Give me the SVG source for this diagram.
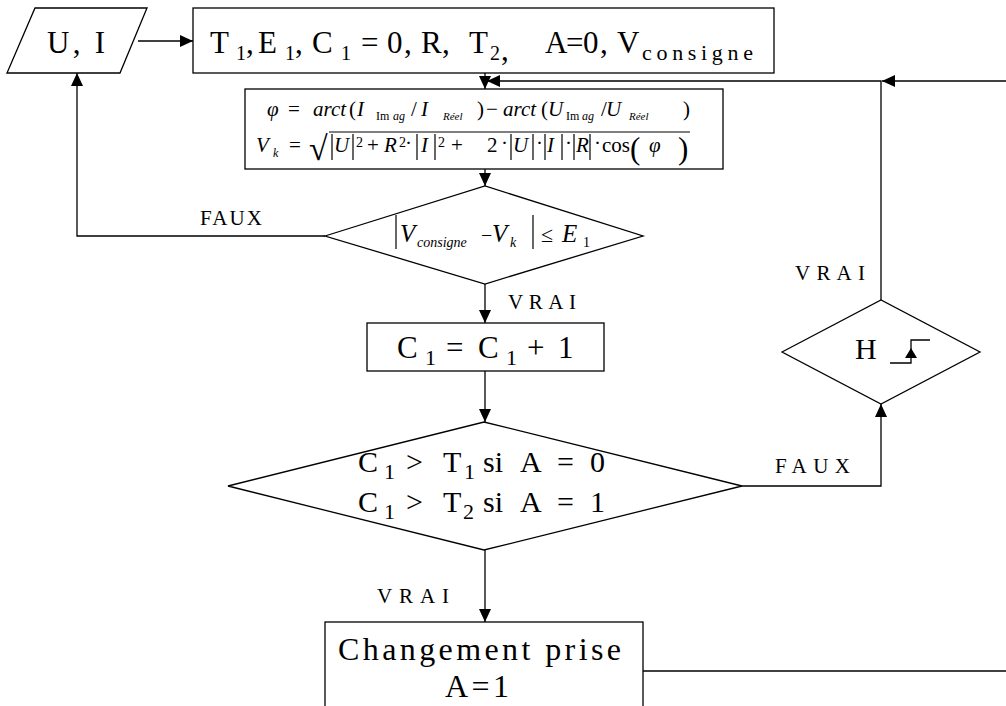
<svg xmlns="http://www.w3.org/2000/svg" width="1006" height="706" viewBox="0 0 1006 706">
<style>
.sh{fill:#fff;stroke:#000;stroke-width:1.3}
.ln{fill:none;stroke:#000;stroke-width:1.3}
.t{font-family:"Liberation Serif","Times New Roman",serif;fill:#000}
.i{font-style:italic}
.n{font-style:normal}
.lab{font-family:"Liberation Serif","Times New Roman",serif;font-size:21px;fill:#000}
.bar{stroke:#000;stroke-width:1.2}
</style>
<defs>
<marker id="ah" markerUnits="userSpaceOnUse" markerWidth="13" markerHeight="12" refX="13" refY="6" orient="auto">
<path d="M0,0 L13,6 L0,12 z" fill="#000"/>
</marker>
</defs>
<rect width="1006" height="706" fill="#fff"/>

<g id="connectors">
<path class="ln" d="M138,41 H193" marker-end="url(#ah)"/>
<path class="ln" d="M485,73 V89" marker-end="url(#ah)"/>
<path class="ln" d="M1006,81 H882" marker-end="url(#ah)"/>
<path class="ln" d="M881,300 V81 H487" marker-end="url(#ah)"/>
<path class="ln" d="M485,169 V186" marker-end="url(#ah)"/>
<path class="ln" d="M325,236 H77 V73" marker-end="url(#ah)"/>
<path class="ln" d="M485,284 V323" marker-end="url(#ah)"/>
<path class="ln" d="M485,371 V422" marker-end="url(#ah)"/>
<path class="ln" d="M742,486 H881 V404" marker-end="url(#ah)"/>
<path class="ln" d="M485,550 V622" marker-end="url(#ah)"/>
<path class="ln" d="M643,671 H1006"/>
<text class="lab" x="200" y="225" textLength="62" lengthAdjust="spacing">FAUX</text>
<text class="lab" x="508" y="309" textLength="68" lengthAdjust="spacing">VRAI</text>
<text class="lab" x="795" y="280" textLength="70" lengthAdjust="spacing">VRAI</text>
<text class="lab" x="775" y="473" textLength="75" lengthAdjust="spacing">FAUX</text>
<text class="lab" x="377" y="603" textLength="72" lengthAdjust="spacing">VRAI</text>
</g>

<g id="input">
<polygon class="sh" points="35,8 147,8 120,73 7,73"/>
<text class="t" x="47" y="53" font-size="31" textLength="58" lengthAdjust="spacing">U, I</text>
</g>

<g id="init">
<rect class="sh" x="193" y="8" width="581" height="65"/>
<text class="t" font-size="31" y="53">
<tspan x="210">T</tspan><tspan x="236" y="60" font-size="20">1</tspan><tspan x="246" y="53">,</tspan>
<tspan x="258">E</tspan><tspan x="285" y="60" font-size="20">1</tspan><tspan x="295" y="53">,</tspan>
<tspan x="312">C</tspan><tspan x="341" y="60" font-size="20">1</tspan>
<tspan x="361" y="53">=</tspan><tspan x="387">0</tspan><tspan x="404">,</tspan>
<tspan x="421">R</tspan><tspan x="442">,</tspan>
<tspan x="469">T</tspan><tspan x="490" y="60" font-size="20">2</tspan><tspan x="501" y="60">,</tspan>
<tspan x="545" y="53">A</tspan><tspan x="566">=</tspan><tspan x="583">0</tspan><tspan x="600">,</tspan>
<tspan x="617">V</tspan><tspan x="642" y="60" font-size="22" textLength="111" lengthAdjust="spacing">consigne</tspan>
</text>
</g>

<g id="calc">
<rect class="sh" x="245" y="89" width="478" height="80"/>
<text class="t i" font-size="21" y="116">
<tspan x="267">φ</tspan><tspan x="288" class="n">=</tspan><tspan x="313">arct</tspan>
<tspan x="349" class="n">(</tspan><tspan x="357">I</tspan>
<tspan x="376" y="120" font-size="12" class="n">Im</tspan><tspan x="393" y="120" font-size="12">ag</tspan>
<tspan x="411" y="116" class="n">/</tspan><tspan x="421">I</tspan>
<tspan x="443" y="120" font-size="11">Réel</tspan>
<tspan x="477" y="116" class="n">)</tspan><tspan x="486" class="n">−</tspan>
<tspan x="503">arct</tspan><tspan x="541" class="n">(</tspan><tspan x="548">U</tspan>
<tspan x="566" y="120" font-size="12" class="n">Im</tspan><tspan x="582" y="120" font-size="12">ag</tspan>
<tspan x="601" y="116" class="n">/</tspan><tspan x="606">U</tspan>
<tspan x="629" y="120" font-size="11">Réel</tspan>
<tspan x="683" y="116" class="n">)</tspan>
</text>
<text class="t i" font-size="21" y="152">
<tspan x="256">V</tspan><tspan x="273" y="157" font-size="12">k</tspan>
<tspan x="289" y="152" class="n">=</tspan>
<tspan x="367" class="n">+</tspan><tspan x="384">R</tspan>
<tspan x="451" class="n">+</tspan><tspan x="487" class="n">2</tspan>
<tspan x="602" class="n">cos</tspan><tspan x="649">φ</tspan>
</text>
<text class="t i" font-size="21" y="152">
<tspan x="334">U</tspan><tspan x="421">I</tspan><tspan x="513">U</tspan><tspan x="547">I</tspan><tspan x="576">R</tspan>
</text>
<text class="t" font-size="14" y="147">
<tspan x="356">2</tspan><tspan x="399">2</tspan><tspan x="438">2</tspan>
</text>
<text class="t" font-size="21" y="150">
<tspan x="405">·</tspan><tspan x="501">·</tspan><tspan x="536">·</tspan><tspan x="565">·</tspan><tspan x="594">·</tspan>
</text>
<text class="t" font-size="31" y="159"><tspan x="630">(</tspan><tspan x="678">)</tspan></text>
<text class="t" font-size="34" x="309" y="160">√</text>
<line class="bar" x1="329" y1="132" x2="690" y2="132"/>
<g class="bar">
<line x1="332" y1="134" x2="332" y2="160"/><line x1="353" y1="134" x2="353" y2="160"/>
<line x1="417" y1="134" x2="417" y2="160"/><line x1="435" y1="134" x2="435" y2="160"/>
<line x1="511" y1="134" x2="511" y2="160"/><line x1="533" y1="134" x2="533" y2="160"/>
<line x1="545" y1="134" x2="545" y2="160"/><line x1="562" y1="134" x2="562" y2="160"/>
<line x1="574" y1="134" x2="574" y2="160"/><line x1="590" y1="134" x2="590" y2="160"/>
</g>
</g>

<g id="cond1">
<polygon class="sh" points="325,236 485,186 643,236 485,284"/>
<line class="bar" x1="396" y1="215" x2="396" y2="249"/>
<line class="bar" x1="533" y1="215" x2="533" y2="249"/>
<text class="t i" font-size="25" y="242">
<tspan x="400">V</tspan><tspan x="417" y="247" font-size="14">consigne</tspan>
<tspan x="481" y="242" font-size="20" class="n">−</tspan>
<tspan x="492">V</tspan><tspan x="510" y="247" font-size="14">k</tspan>
<tspan x="541" y="242" font-size="22" class="n">≤</tspan>
<tspan x="562">E</tspan><tspan x="583" y="247" font-size="14" class="n">1</tspan>
</text>
</g>

<g id="increment">
<rect class="sh" x="367" y="323" width="237" height="48"/>
<text class="t" font-size="31" y="358">
<tspan x="397">C</tspan><tspan x="425" y="365" font-size="22">1</tspan>
<tspan x="446" y="358">=</tspan><tspan x="478">C</tspan><tspan x="506" y="365" font-size="22">1</tspan>
<tspan x="527" y="358">+</tspan><tspan x="558">1</tspan>
</text>
</g>

<g id="cond2">
<polygon class="sh" points="228,486 484,422 742,486 484,550"/>
<text class="t" font-size="30" y="472">
<tspan x="358">C</tspan><tspan x="384" y="479" font-size="22">1</tspan>
<tspan x="406" y="472">&gt;</tspan><tspan x="443">T</tspan><tspan x="464" y="479" font-size="22">1</tspan>
<tspan x="483" y="472">si</tspan><tspan x="520">A</tspan><tspan x="557">=</tspan><tspan x="590">0</tspan>
</text>
<text class="t" font-size="30" y="512">
<tspan x="358">C</tspan><tspan x="384" y="519" font-size="22">1</tspan>
<tspan x="406" y="512">&gt;</tspan><tspan x="443">T</tspan><tspan x="463" y="519" font-size="22">2</tspan>
<tspan x="483" y="512">si</tspan><tspan x="520">A</tspan><tspan x="557">=</tspan><tspan x="590">1</tspan>
</text>
</g>

<g id="clock">
<polygon class="sh" points="782,352 881,300 980,352 881,404"/>
<text class="t" font-size="30" x="855" y="359">H</text>
<path class="ln" d="M890,363 H911 V340 H930"/>
<path d="M911,348 L905,358 L917,358 z" fill="#000"/>
</g>

<g id="change">
<rect class="sh" x="325" y="622" width="318" height="100"/>
<text class="t" font-size="32" x="338" y="660" textLength="283" lengthAdjust="spacing">Changement prise</text>
<text class="t" font-size="32" x="445" y="697" textLength="64" lengthAdjust="spacing">A=1</text>
</g>
</svg>
